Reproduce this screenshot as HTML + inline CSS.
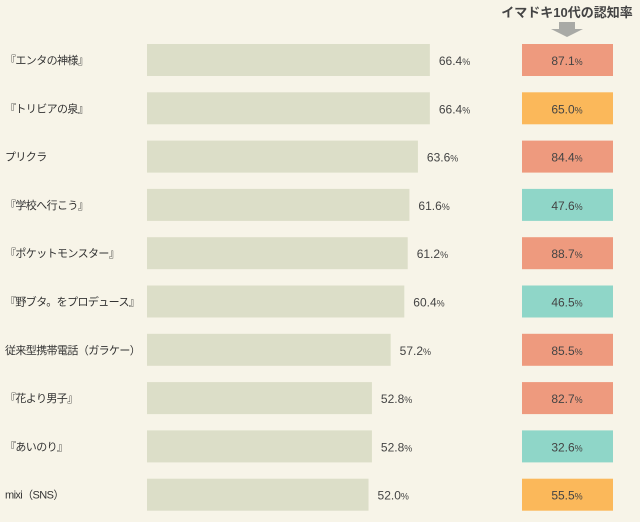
<!DOCTYPE html>
<html><head><meta charset="utf-8"><style>
body{margin:0;width:640px;height:517px;background:#f7f4e8;font-family:"Liberation Sans","Noto Sans CJK JP",sans-serif;overflow:hidden}
svg text{font-family:"Liberation Sans","Noto Sans CJK JP",sans-serif}
</style></head><body>
<svg id="chart" width="640" height="517" xmlns="http://www.w3.org/2000/svg">
<text x="567" y="17" text-anchor="middle" font-size="13" font-weight="bold" fill="#444">イマドキ10代の認知率</text>
<path d="M559 22h16v7h8l-16 8-16-8h8z" fill="#a9aaa6"/>
</svg>
<script>
const categories=["『エンタの神様』","『トリビアの泉』","プリクラ","『学校へ行こう』","『ポケットモンスター』","『野ブタ。をプロデュース』","従来型携帯電話（ガラケー）","『花より男子』","『あいのり』","mixi（SNS）"];
const overallValues=[66.4,66.4,63.6,61.6,61.2,60.4,57.2,52.8,52.8,52.0];
const teenValues=[87.1,65.0,84.4,47.6,88.7,46.5,85.5,82.7,32.6,55.5];
const svg=document.getElementById('chart');
const NS="http://www.w3.org/2000/svg";
const x0=147, pxPer=4.26;
const xScale=v=>v*pxPer;
const yScale=i=>44+i*48.3;
function teenColor(v){return v>=80?"#ee9a7e":(v>=50?"#fbb85a":"#8fd6c8");}
function mk(tag,attrs){const e=document.createElementNS(NS,tag);for(const k in attrs)e.setAttribute(k,attrs[k]);svg.appendChild(e);return e;}
categories.forEach((c,i)=>{
  const y=yScale(i);
  const lbl=mk('text',{x:5,y:y+20,'font-size':11,'letter-spacing':-0.6,fill:'#333'});lbl.textContent=c;
  
  
  const w=xScale(overallValues[i]);
  const bar=mk('rect',{x:x0,y:y,width:w,height:32,fill:'#dcdec8'});
  
  
  const vt=mk('text',{x:x0+w+9,y:y+21,'font-size':12,fill:'#444'});
  vt.innerHTML=overallValues[i].toFixed(1)+'<tspan font-size="9">%</tspan>';
  
  
  const box=mk('rect',{x:522,y:y,width:91,height:32,fill:teenColor(teenValues[i])});
  
  
  const tt=mk('text',{x:567,y:y+21,'font-size':12,fill:'#444','text-anchor':'middle'});
  tt.innerHTML=teenValues[i].toFixed(1)+'<tspan font-size="9">%</tspan>';
  
  
});
</script>
</body></html>
